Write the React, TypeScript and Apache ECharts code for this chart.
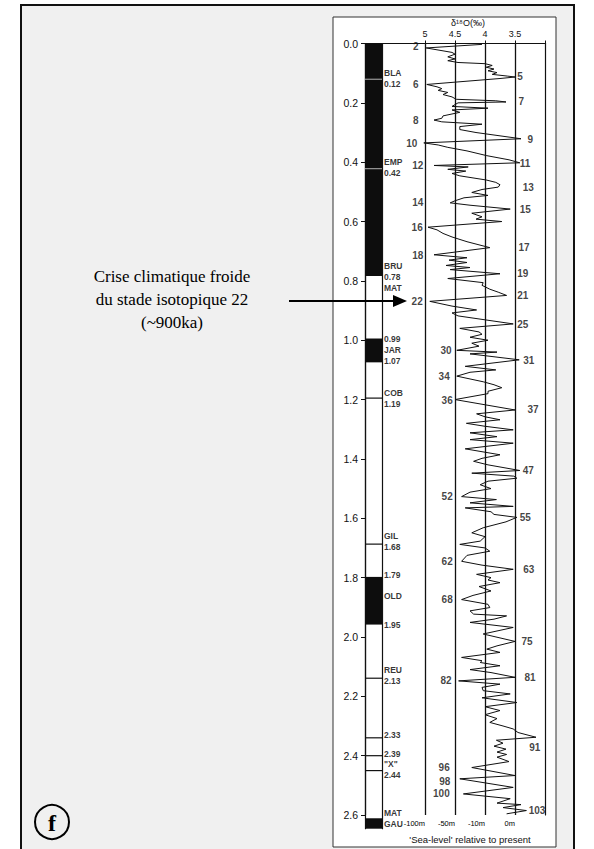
import React, { useEffect, useRef } from "react";
import * as echarts from "echarts";

// ---- Age axis (Ma) ----
const ageTicks = [0, 0.2, 0.4, 0.6, 0.8, 1.0, 1.2, 1.4, 1.6, 1.8, 2.0, 2.2, 2.4, 2.6];

// ---- δ18O axis (‰) ----
const d18OTicks = [5, 4.5, 4, 3.5];
const seaLevelLabels = ["-100m", "-50m", "-10m", "0m"];

// ---- δ18O curve (age in Ma, δ18O in ‰) ----
const curveAge = [
  0.003, 0.015, 0.03, 0.036, 0.045, 0.052, 0.058, 0.064, 0.068, 0.074, 0.08, 0.086, 0.092, 0.098, 0.104, 0.11, 0.113, 0.118,
  0.138, 0.146, 0.152, 0.158, 0.165, 0.172, 0.18, 0.188, 0.193, 0.197, 0.2, 0.212, 0.218, 0.224, 0.232, 0.244, 0.252, 0.258,
  0.264, 0.272, 0.28, 0.29, 0.3, 0.321, 0.335, 0.342, 0.35, 0.362, 0.378, 0.392, 0.402, 0.411, 0.416, 0.424, 0.43, 0.438,
  0.446, 0.46, 0.468, 0.476, 0.484, 0.492, 0.502, 0.512, 0.52, 0.53, 0.537, 0.545, 0.558, 0.572, 0.584, 0.592, 0.6, 0.619,
  0.628, 0.64, 0.652, 0.668, 0.688, 0.712, 0.722, 0.73, 0.738, 0.748, 0.755, 0.762, 0.776, 0.792, 0.806, 0.815, 0.828,
  0.838, 0.849, 0.869, 0.885, 0.898, 0.908, 0.918, 0.945, 0.96, 0.972, 0.98, 0.99, 1.0, 1.01, 1.02, 1.034, 1.04, 1.046,
  1.066, 1.088, 1.1, 1.108, 1.121, 1.14, 1.15, 1.16, 1.172, 1.18, 1.2, 1.235, 1.248, 1.258, 1.268, 1.28, 1.29, 1.302,
  1.312, 1.325, 1.335, 1.347, 1.366, 1.386, 1.398, 1.408, 1.42, 1.439, 1.448, 1.458, 1.465, 1.475, 1.487, 1.5, 1.512,
  1.527, 1.537, 1.548, 1.56, 1.565, 1.578, 1.587, 1.597, 1.612, 1.632, 1.649, 1.662, 1.677, 1.688, 1.7, 1.711, 1.725,
  1.745, 1.758, 1.772, 1.789, 1.8, 1.808, 1.817, 1.83, 1.845, 1.86, 1.874, 1.89, 1.901, 1.912, 1.923, 1.929, 1.94, 1.951,
  1.968, 1.99, 2.015, 2.03, 2.041, 2.052, 2.069, 2.08, 2.086, 2.097, 2.11, 2.12, 2.136, 2.148, 2.159, 2.17, 2.181, 2.192,
  2.205, 2.221, 2.235, 2.248, 2.262, 2.275, 2.288, 2.3, 2.31, 2.322, 2.338, 2.348, 2.358, 2.368, 2.378, 2.388, 2.396,
  2.405, 2.42, 2.44, 2.467, 2.478, 2.507, 2.529, 2.545, 2.56, 2.565, 2.575, 2.585, 2.596,
];
const curveD18O = [
  4.05, 4.98, 4.55, 4.5, 4.62, 4.5, 4.62, 4.45, 4.0, 3.88, 3.98, 3.85, 3.95, 3.8, 3.88, 3.62, 3.5, 3.75,
  4.97, 4.8, 4.72, 4.78, 4.62, 4.7, 4.55, 4.48, 3.82, 3.65, 4.45, 4.55, 3.95, 4.55, 4.42, 4.7, 4.72, 4.85,
  4.72, 4.05, 4.42, 4.42, 4.15, 3.4, 5.02, 4.78, 4.62, 4.3, 3.97, 3.6, 3.42, 4.85, 4.28, 4.62, 4.32, 4.55,
  4.42, 3.98, 3.82, 3.75, 3.78, 4.05, 4.22, 3.95, 4.35, 4.5, 4.58, 4.25, 3.58, 4.22, 4.05, 4.15, 3.72, 4.95,
  4.8, 4.7, 4.55, 4.3, 3.92, 4.85, 4.3, 4.6, 4.3, 4.65, 4.25, 4.58, 3.75, 4.62, 4.03, 4.05, 3.92,
  3.78, 3.64, 4.92, 4.55, 4.14, 4.55, 4.45, 3.53, 4.42, 4.1, 4.05, 4.25, 3.95, 4.22, 4.1, 4.47, 3.8, 4.25,
  3.43, 4.33, 3.82, 4.25, 4.47, 4.03, 3.85, 3.72, 3.95, 3.95, 4.5, 3.5, 4.14, 4.0, 3.75, 4.31, 4.0, 3.53,
  4.25, 3.8, 4.25, 3.53, 4.33, 3.75, 4.05, 4.19, 3.95, 3.42, 4.22, 3.52, 3.47, 3.95, 4.08, 3.9, 4.25,
  4.39, 3.81, 4.25, 3.53, 4.33, 3.9, 3.85, 3.47, 3.65, 4.03, 4.22, 4.0, 4.08, 4.42, 4.0, 3.92, 4.3,
  4.39, 4.05, 3.53, 4.14, 3.9, 3.95, 3.75, 4.1, 3.9, 4.2, 4.39, 3.95, 3.92, 4.25, 4.19, 3.64, 3.85, 4.25,
  3.53, 4.03, 3.5, 3.8, 3.97, 3.75, 4.39, 4.05, 4.08, 3.75, 4.25, 3.9, 3.5, 4.44, 3.75, 4.05, 4.03, 3.58,
  4.05, 3.47, 4.0, 3.75, 4.0, 3.8, 3.92, 3.7, 3.53, 3.45, 3.15, 3.81, 3.7, 3.85, 3.65, 3.8, 3.64,
  3.8, 3.6, 4.22, 3.5, 4.42, 3.53, 4.36, 3.58, 3.8, 3.4, 3.7, 3.31, 3.64,
];

// ---- Marine isotope stage labels ----
const evenStages = [2, 6, 8, 10, 12, 14, 16, 18, 22, 30, 34, 36, 52, 62, 68, 82, 96, 98, 100];
const evenStageAges = [0.011, 0.138, 0.258, 0.336, 0.412, 0.535, 0.619, 0.715, 0.869, 1.036, 1.121, 1.202, 1.527, 1.745, 1.874, 2.148, 2.441, 2.487, 2.529];
const evenStageAnchor = [5.1, 5.1, 5.1, 5.12, 5.02, 5.02, 5.03, 5.02, 5.03, 4.55, 4.58, 4.53, 4.53, 4.53, 4.53, 4.55, 4.58, 4.57, 4.58];
const oddStages = [5, 7, 9, 11, 13, 15, 17, 19, 21, 25, 31, 37, 47, 55, 63, 75, 81, 91, 103];
const oddStageAges = [0.112, 0.194, 0.322, 0.403, 0.485, 0.558, 0.687, 0.776, 0.849, 0.947, 1.067, 1.235, 1.439, 1.597, 1.773, 2.016, 2.137, 2.372, 2.585];
const oddStageAnchor = [3.47, 3.45, 3.3, 3.43, 3.38, 3.43, 3.45, 3.47, 3.47, 3.47, 3.37, 3.3, 3.38, 3.43, 3.37, 3.4, 3.35, 3.27, 3.28];

// ---- Magnetic polarity ----
const normalStart = [0, 0.99, 1.79, 2.6];
const normalEnd = [0.78, 1.07, 1.95, 2.635];
const eventsInNormal = [0.12, 0.42];
const eventsInReversed = [1.19, 1.68, 2.13, 2.33, 2.39, 2.44];
const polarityLabels = ["BLA\n0.12", "EMP\n0.42", "BRU\n0.78\nMAT", "0.99\nJAR\n1.07", "COB\n1.19", "GIL\n1.68", "1.79", "OLD", "1.95", "REU\n2.13", "2.33", "2.39", "\"X\"\n2.44", "MAT\nGAU"];
const polarityLabelAges = [0.116, 0.415, 0.785, 1.03, 1.19, 1.672, 1.785, 1.855, 1.95, 2.122, 2.322, 2.383, 2.437, 2.6];
const plioPleistoceneAge = 1.81;

const annotationLines = ["Crise climatique froide", "du stade isotopique 22", "(~900ka)"];
const panelLetter = "f";

const SANS = "'Liberation Sans', Arial, sans-serif";
const SERIF = "'Liberation Serif', 'Times New Roman', serif";
const INK = "#111";

export default function App() {
  const ref = useRef<HTMLDivElement>(null);
  useEffect(() => {
    if (!ref.current) return;
    const chart = echarts.init(ref.current, undefined, { renderer: "svg" });

    const curve = curveAge.map((a, i) => [curveD18O[i], a]);
    const evenData = evenStages.map((s, i) => [evenStageAnchor[i], evenStageAges[i], s]);
    const oddData = oddStages.map((s, i) => [oddStageAnchor[i], oddStageAges[i], s]);
    const polData = normalStart.map((s, i) => [s, normalEnd[i]]);
    const polLabelData = polarityLabels.map((t, i) => [1, polarityLabelAges[i], t]);

    const lineRender = (color: string) => (params: any, api: any) => {
      const v = api.value(0);
      const p0 = api.coord([0, v]);
      const p1 = api.coord([1, v]);
      return { type: "line", shape: { x1: p0[0], y1: p0[1], x2: p1[0], y2: p1[1] }, style: { stroke: color, lineWidth: 1.2 } };
    };

    const option: any = {
      animation: false,
      graphic: [
        { type: "rect", z: -20, shape: { x: 21, y: 5, width: 553, height: 870 }, style: { fill: "#f0f0f0", stroke: "#111", lineWidth: 2 } },
        { type: "rect", z: -19, shape: { x: 333, y: 17, width: 223, height: 830 }, style: { fill: "#ffffff", stroke: "#333", lineWidth: 1 } },
        ...annotationLines.map((t, i) => ({
          type: "text", z: 5, x: 172, y: 276 + i * 23,
          style: { text: t, fill: "#000", font: `17px ${SERIF}`, textAlign: "center", textVerticalAlign: "middle" },
        })),
        { type: "line", z: 5, shape: { x1: 289, y1: 301, x2: 396, y2: 301 }, style: { stroke: "#000", lineWidth: 2 } },
        { type: "polygon", z: 5, shape: { points: [[393, 295], [407, 301], [393, 307]] }, style: { fill: "#000" } },
        { type: "circle", z: 5, shape: { cx: 52, cy: 822, r: 17 }, style: { fill: "none", stroke: "#000", lineWidth: 2 } },
        { type: "text", z: 5, x: 52, y: 823, style: { text: panelLetter, fill: "#000", font: `bold 24px ${SERIF}`, textAlign: "center", textVerticalAlign: "middle" } },
      ],
      grid: [
        { left: 365, top: 43.5, width: 180, height: 775, show: false },
        { left: 365, top: 43.5, width: 17, height: 785.2, show: false },
      ],
      xAxis: [
        {
          gridIndex: 0, type: "value", position: "top", min: 3, max: 6, inverse: true,
          name: "δ¹⁸O(‰)", nameLocation: "middle", nameGap: 16.5, nameMoveOverlap: false,
          nameTextStyle: { fontFamily: SANS, fontSize: 9, color: INK, padding: [0, 0, 0, 26] },
          axisLine: { show: true, lineStyle: { color: INK, width: 1.2 } },
          axisTick: { show: true, length: 3, customValues: [5, 4.5, 4, 3.5, 3], lineStyle: { color: INK } },
          axisLabel: { customValues: d18OTicks, formatter: (v: number) => String(v), fontFamily: SANS, fontSize: 9, color: INK, margin: 5 },
          splitLine: { show: false },
        },
        {
          gridIndex: 0, type: "value", position: "bottom", min: 3, max: 6, inverse: true,
          name: "'Sea-level' relative to present", nameLocation: "middle", nameGap: 19, nameMoveOverlap: false,
          nameTextStyle: { fontFamily: SANS, fontSize: 9.5, color: INK, padding: [0, 0, 0, 30] },
          axisLine: { show: true, lineStyle: { color: INK, width: 1.2 } },
          axisTick: { show: false },
          axisLabel: {
            customValues: d18OTicks,
            formatter: (v: number) => seaLevelLabels[d18OTicks.indexOf(v)] ?? "",
            align: "right", fontFamily: SANS, fontSize: 7.5, color: "#000", margin: 4,
          },
          splitLine: { show: false },
        },
        { gridIndex: 1, type: "value", min: 0, max: 1, show: false },
      ],
      yAxis: [
        {
          gridIndex: 0, type: "value", min: 0, max: 2.6, interval: 0.2, inverse: true,
          axisLine: { show: true, lineStyle: { color: INK, width: 1.2 } },
          axisTick: { show: true, length: 4, lineStyle: { color: INK } },
          axisLabel: { formatter: (v: number) => v.toFixed(1), fontFamily: SANS, fontSize: 10.5, color: INK, margin: 7 },
          splitLine: { show: false },
        },
        {
          gridIndex: 0, type: "value", position: "right", min: 0, max: 2.6, inverse: true,
          axisLine: { show: true, lineStyle: { color: INK, width: 1.2 } },
          axisTick: { show: false }, axisLabel: { show: false }, splitLine: { show: false },
        },
        {
          gridIndex: 1, type: "value", position: "left", min: 0, max: 2.635, inverse: true,
          axisLine: { show: true, lineStyle: { color: INK, width: 1.2 } },
          axisTick: { show: false }, axisLabel: { show: false }, splitLine: { show: false },
        },
        {
          gridIndex: 1, type: "value", position: "right", min: 0, max: 2.635, inverse: true,
          axisLine: { show: true, lineStyle: { color: INK, width: 1.2 } },
          axisTick: { show: false }, axisLabel: { show: false }, splitLine: { show: false },
        },
      ],
      series: [
        {
          type: "line", xAxisIndex: 0, yAxisIndex: 0, data: curve, symbol: "none", silent: true,
          lineStyle: { color: INK, width: 1 },
          markLine: {
            silent: true, symbol: ["none", "none"], animation: false,
            data: [
              ...d18OTicks.map((v) => ({ xAxis: v, lineStyle: { color: INK, width: 1.3, type: "solid" }, label: { show: false } })),
              [
                { coord: [5.08, plioPleistoceneAge], lineStyle: { color: INK, width: 1.2, type: [5, 3] }, label: { show: true, position: "start", formatter: "1.81", fontFamily: SANS, fontSize: 9, fontWeight: "bold", color: "#000", distance: 2 } },
                { coord: [2.8, plioPleistoceneAge] },
              ],
            ],
          },
        },
        {
          type: "scatter", xAxisIndex: 0, yAxisIndex: 0, data: evenData, symbolSize: 1, silent: true,
          itemStyle: { color: "rgba(0,0,0,0)" },
          label: { show: true, position: "left", distance: 0, formatter: (p: any) => String(p.value[2]), fontFamily: SANS, fontSize: 10, fontWeight: "bold", color: INK },
        },
        {
          type: "scatter", xAxisIndex: 0, yAxisIndex: 0, data: oddData, symbolSize: 1, silent: true,
          itemStyle: { color: "rgba(0,0,0,0)" },
          label: { show: true, position: "right", distance: 0, formatter: (p: any) => String(p.value[2]), fontFamily: SANS, fontSize: 10, fontWeight: "bold", color: INK },
        },
        {
          type: "custom", xAxisIndex: 2, yAxisIndex: 2, data: polData, silent: true,
          encode: { y: [0, 1] },
          renderItem: (params: any, api: any) => {
            const p0 = api.coord([0, api.value(0)]);
            const p1 = api.coord([1, api.value(1)]);
            return { type: "rect", shape: { x: p0[0], y: p0[1], width: p1[0] - p0[0], height: p1[1] - p0[1] }, style: { fill: "#0d0d0d" } };
          },
        },
        { type: "custom", xAxisIndex: 2, yAxisIndex: 2, data: eventsInNormal.map((v) => [v]), encode: { y: 0 }, silent: true, z: 3, renderItem: lineRender("#9a9a9a") },
        { type: "custom", xAxisIndex: 2, yAxisIndex: 2, data: eventsInReversed.map((v) => [v]), encode: { y: 0 }, silent: true, z: 3, renderItem: lineRender(INK) },
        {
          type: "scatter", xAxisIndex: 2, yAxisIndex: 2, data: polLabelData, symbolSize: 1, silent: true,
          itemStyle: { color: "rgba(0,0,0,0)" },
          label: { show: true, position: "right", distance: 1.5, formatter: (p: any) => String(p.value[2]), fontFamily: SANS, fontSize: 8.5, fontWeight: "bold", lineHeight: 11, color: "#000", align: "left" },
        },
      ],
    };
    chart.setOption(option);
    return () => chart.dispose();
  }, []);
  return <div ref={ref} style={{ position: "absolute", left: 0, top: 0, width: 594, height: 849 }} />;
}
